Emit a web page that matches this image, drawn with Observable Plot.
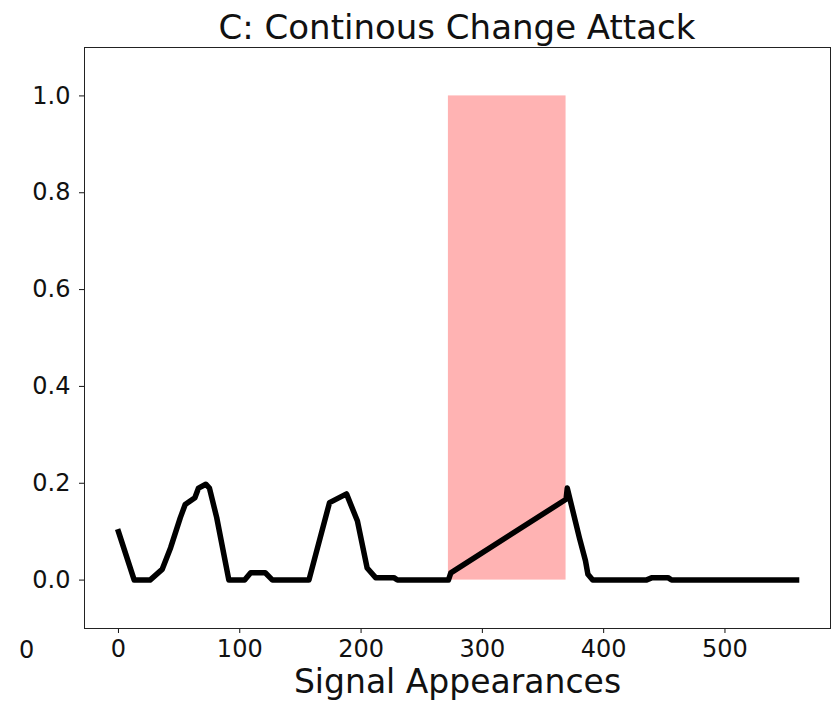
<!DOCTYPE html>
<html>
<head>
<meta charset="utf-8">
<script src="https://cdn.jsdelivr.net/npm/d3@7"></script>
<script src="https://cdn.jsdelivr.net/npm/@observablehq/plot@0.6"></script>
<style>
  body { margin: 0; background: #fff; font-family: "DejaVu Sans", sans-serif; }
  #wrap { position: relative; width: 838px; height: 702px; }
  #title { position: absolute; left: 84px; width: 746px; top: 7px; text-align: center;
           font-size: 34px; color: #111; line-height: 40px; white-space: nowrap; }
  #stray { position: absolute; left: 19px; top: 636px; font-size: 24px; color: #111; }
  #chart { position: absolute; left: 0; top: 0; }
</style>
</head>
<body>
<div id="wrap">
  <div id="chart"></div>
  <div id="title">C: Continous Change Attack</div>
  <div id="stray">0</div>
</div>
<script>
// Anomaly score per signal appearance
const appearance = [0, 13, 26, 36, 43, 51, 55, 63, 66, 72, 75, 81, 91, 104, 109, 121, 127,
  157, 174, 188, 197, 205, 212, 227, 230, 272, 274, 369, 370, 380, 385, 387, 391,
  435, 440, 453, 456, 559];
const score = [0.10, 0, 0, 0.022, 0.067, 0.129, 0.156, 0.17, 0.19, 0.198, 0.19, 0.129, 0, 0, 0.015, 0.015, 0,
  0, 0.16, 0.178, 0.122, 0.025, 0.005, 0.005, 0, 0, 0.015, 0.167, 0.19, 0.087, 0.04, 0.012, 0,
  0, 0.005, 0.005, 0, 0];

// Attack window
const attackStart = [272];
const attackEnd = [369];

const xTicks = [0, 100, 200, 300, 400, 500];
const yTicks = [0, 0.2, 0.4, 0.6, 0.8, 1.0];

const series = appearance.map((a, i) => ({a, s: score[i]}));
const attack = attackStart.map((s, i) => ({x1: s, x2: attackEnd[i], y1: 0, y2: 1}));

const chart = Plot.plot({
  width: 838,
  height: 702,
  marginTop: 47,
  marginBottom: 74,
  marginLeft: 84,
  marginRight: 8,
  style: {fontFamily: "DejaVu Sans", fontSize: "24px", color: "#111", background: "#fff"},
  x: {domain: [-28, 587], ticks: xTicks, tickFormat: "d", tickSize: 5, tickPadding: 6,
      label: "Signal Appearances", labelAnchor: "center", labelArrow: "none", labelOffset: 64},
  y: {domain: [-0.1, 1.1], ticks: yTicks, tickFormat: ".1f", tickSize: 5, tickPadding: 9, label: null},
  marks: [
    Plot.rectY(attack, {x1: "x1", x2: "x2", y1: "y1", y2: "y2", fill: "#ffb3b3"}),
    Plot.line(series, {x: "a", y: "s", stroke: "#000", strokeWidth: 5.5,
      strokeLinejoin: "round", strokeLinecap: "square"}),
    Plot.frame({stroke: "#222", strokeWidth: 1})
  ]
});
chart.querySelectorAll('[aria-label="x-axis label"] text').forEach(t => t.style.fontSize = "33px");
document.getElementById("chart").appendChild(chart);
</script>
</body>
</html>
